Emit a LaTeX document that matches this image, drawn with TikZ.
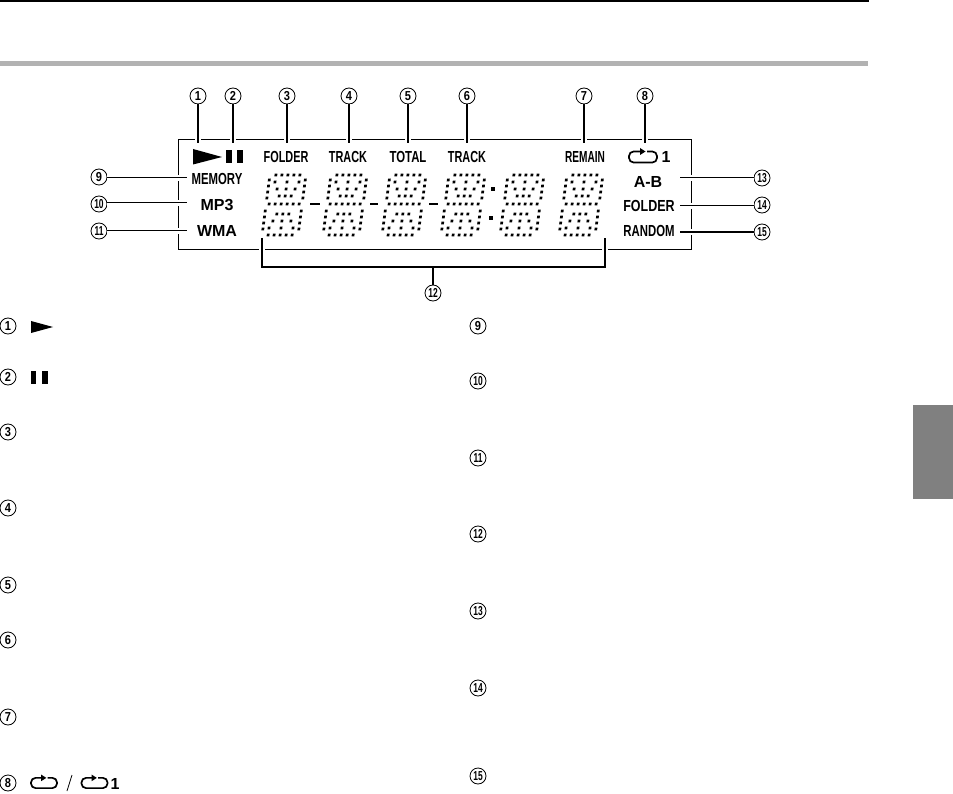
\documentclass[tikz,border=0pt]{standalone}
\usepackage{fontspec}
\usepackage{graphicx}
\setmainfont{Liberation Sans}
\definecolor{rulegray}{gray}{0.70}
\definecolor{tabgray}{gray}{0.50}
\newcommand{\cond}[2]{\scalebox{#1}[1]{\bfseries #2}}
\tikzset{
  numcirc/.style={circle,draw=black,line width=0.8pt,minimum size=16pt,inner sep=0pt,
    font=\fontsize{13}{13}\selectfont},
  lbl/.style={inner sep=0pt,font=\fontsize{16}{16}\selectfont},
  lcdframe/.style={draw=black,line width=0.9pt},
  leader/.style={draw=black,line width=1.3pt,preaction={draw=white,line width=6pt}},
  sideleader/.style={draw=black,line width=1pt,preaction={draw=white,line width=6pt}},
  repeaticon/.pic={
    \draw[line width=1.7pt,rounded corners=4.6pt]
      (4,-5.5) -- (14,-5.5) -- (14,5.5) -- (-14,5.5) -- (-14,-5.5) -- (-2,-5.5);
    \fill (-3,-9) -- (2.5,-5.5) -- (-3,-2) -- cycle;
  },
  lcddigit/.pic={
    \begin{scope}[xslant=0.13]
      \foreach \px/\py in {-12/-30,-6/-30,0/-30,6/-30,12/-30,
        -18/-25,-18/-19,-18/-13,-18/-7, 18/-25,18/-19,18/-13,18/-7,
        0/-23,0/-16,0/-9,
        -12/-23,-9/-16,-6/-9, 12/-23,9/-16,6/-9,
        -15/-1,-9/-1,-3/-1,3/-1,9/-1,15/-1,
        -18/6,-18/12,-18/18,-18/24, 18/6,18/12,18/18,18/24,
        0/9,0/16,0/23,
        -6/9,-9/16,-12/23, 6/9,9/16,12/23,
        -12/30,-6/30,0/30,6/30,12/30}
        {\fill (\px-1.35,\py-1.35) rectangle (\px+1.35,\py+1.35);}
    \end{scope}
  }
}
\begin{document}
\begin{tikzpicture}[x=1pt,y=-1pt]
\useasboundingbox (0,0) rectangle (953,794);
% page furniture
\fill[black] (0,0) rectangle (869,2);
\fill[rulegray] (0,61) rectangle (868,66);
\fill[tabgray] (913,405) rectangle (953,499);
% LCD frame
\draw[lcdframe] (178,139) rectangle (691,249);
% LCD digits
\foreach \dx in {284,345,404,463,522,581}
  \pic at (\dx,205) {lcddigit};
\foreach \ax/\bx in {310/320,370/378,429/438}
  \fill[black] (\ax,203) rectangle (\bx,205.5);
\fill[black] (491,187) rectangle (495,191);
\fill[black] (489,216) rectangle (493,220);
% LCD icons
\fill[black] (193,149) -- (222,157) -- (193,164.5) -- cycle;
\fill[black] (226,150) rectangle (232,163);
\fill[black] (237,150) rectangle (243,163);
\pic at (643,157) {repeaticon};
% LCD labels
\node[lbl] (lfolder) at (286,157) {\cond{0.68}{FOLDER}};
\node[lbl] (ltrack) at (348,157) {\cond{0.68}{TRACK}};
\node[lbl] (ltotal) at (408,157) {\cond{0.71}{TOTAL}};
\node[lbl] (ltracktwo) at (467,157) {\cond{0.68}{TRACK}};
\node[lbl] (lremain) at (585,157) {\cond{0.63}{REMAIN}};
\node[lbl] (lone) at (666,157) {\cond{1}{1}};
\node[lbl] (lmemory) at (217,179) {\cond{0.71}{MEMORY}};
\node[lbl] (lmp) at (217,205) {\cond{1}{MP3}};
\node[lbl] (lwma) at (217,231) {\cond{1}{WMA}};
\node[lbl] (lab) at (648,182) {\cond{1}{A-B}};
\node[lbl] (lfoldertwo) at (649,206) {\cond{0.78}{FOLDER}};
\node[lbl] (lrandom) at (649,231) {\cond{0.71}{RANDOM}};
% callout circles
\node[numcirc] (c1) at (198,96) {\cond{.85}{1}};
\node[numcirc] (c2) at (233,96) {\cond{.85}{2}};
\node[numcirc] (c3) at (287,96) {\cond{.85}{3}};
\node[numcirc] (c4) at (349,96) {\cond{.85}{4}};
\node[numcirc] (c5) at (408,96) {\cond{.85}{5}};
\node[numcirc] (c6) at (467,96) {\cond{.85}{6}};
\node[numcirc] (c7) at (584,96) {\cond{.85}{7}};
\node[numcirc] (c8) at (645,96) {\cond{.85}{8}};
\node[numcirc] (c9) at (99,177) {\cond{.85}{9}};
\node[numcirc] (c10) at (99,204) {\cond{.65}{10}};
\node[numcirc] (c11) at (99,231) {\cond{.65}{11}};
\node[numcirc] (c12) at (433,293) {\cond{.65}{12}};
\node[numcirc] (c13) at (762,178) {\cond{.65}{13}};
\node[numcirc] (c14) at (762,205) {\cond{.65}{14}};
\node[numcirc] (c15) at (762,232) {\cond{.65}{15}};
% leader ends
\foreach \n/\x in {1/198,2/233,3/287,4/349,5/408,6/467,7/584,8/645}
  \coordinate (t\n) at (\x,143);
\coordinate (e9) at (187,178);
\coordinate (e10) at (187,203);
\coordinate (e11) at (187,231);
\coordinate (e13) at (680,178);
\coordinate (e14) at (680,206);
\coordinate (e15) at (680,232);
\coordinate (bl) at (262,238);
\coordinate (br) at (605,238);
\coordinate (bm) at (433,267);
% leaders
\foreach \n in {1,...,8}
  \draw[leader] (c\n.south) -- (t\n);
\draw[sideleader] (c9.east |- e9) -- (e9);
\draw[sideleader] (c10.east |- e10) -- (e10);
\draw[sideleader] (c11.east |- e11) -- (e11);
\draw[sideleader] (c13.west |- e13) -- (e13);
\draw[sideleader] (c14.west |- e14) -- (e14);
\draw[leader,line width=1.6pt] (c15.west |- e15) -- (e15);
\draw[leader] (bl) |- (bm) -| (br);
\draw[line width=1.3pt] (c12.north) -- (bm);
% list, first column
\node[numcirc] (i1) at (8,326) {\cond{.85}{1}};
\node[numcirc] (i2) at (8,377) {\cond{.85}{2}};
\node[numcirc] (i3) at (8,432) {\cond{.85}{3}};
\node[numcirc] (i4) at (8,508) {\cond{.85}{4}};
\node[numcirc] (i5) at (8,585) {\cond{.85}{5}};
\node[numcirc] (i6) at (8,640) {\cond{.85}{6}};
\node[numcirc] (i7) at (8,717) {\cond{.85}{7}};
\node[numcirc] (i8) at (8,783) {\cond{.85}{8}};
% list, second column
\node[numcirc] (i9) at (478,326) {\cond{.85}{9}};
\node[numcirc] (i10) at (478,381) {\cond{.65}{10}};
\node[numcirc] (i11) at (478,458) {\cond{.65}{11}};
\node[numcirc] (i12) at (478,534) {\cond{.65}{12}};
\node[numcirc] (i13) at (478,611) {\cond{.65}{13}};
\node[numcirc] (i14) at (478,688) {\cond{.65}{14}};
\node[numcirc] (i15) at (478,776) {\cond{.65}{15}};
% list icons
\fill[black] (31,321) -- (53,327) -- (31,333) -- cycle;
\fill[black] (31,370.5) rectangle (36,384);
\fill[black] (42,370.5) rectangle (48,384);
\pic[scale=0.93] at (44,783) {repeaticon};
\pic[scale=0.93] at (94.5,783) {repeaticon};
\draw[line width=0.8pt] (67,791) -- (72,775);
\node[lbl] (ionelist) at (115,783.5) {\cond{1}{1}};
\end{tikzpicture}
\end{document}
